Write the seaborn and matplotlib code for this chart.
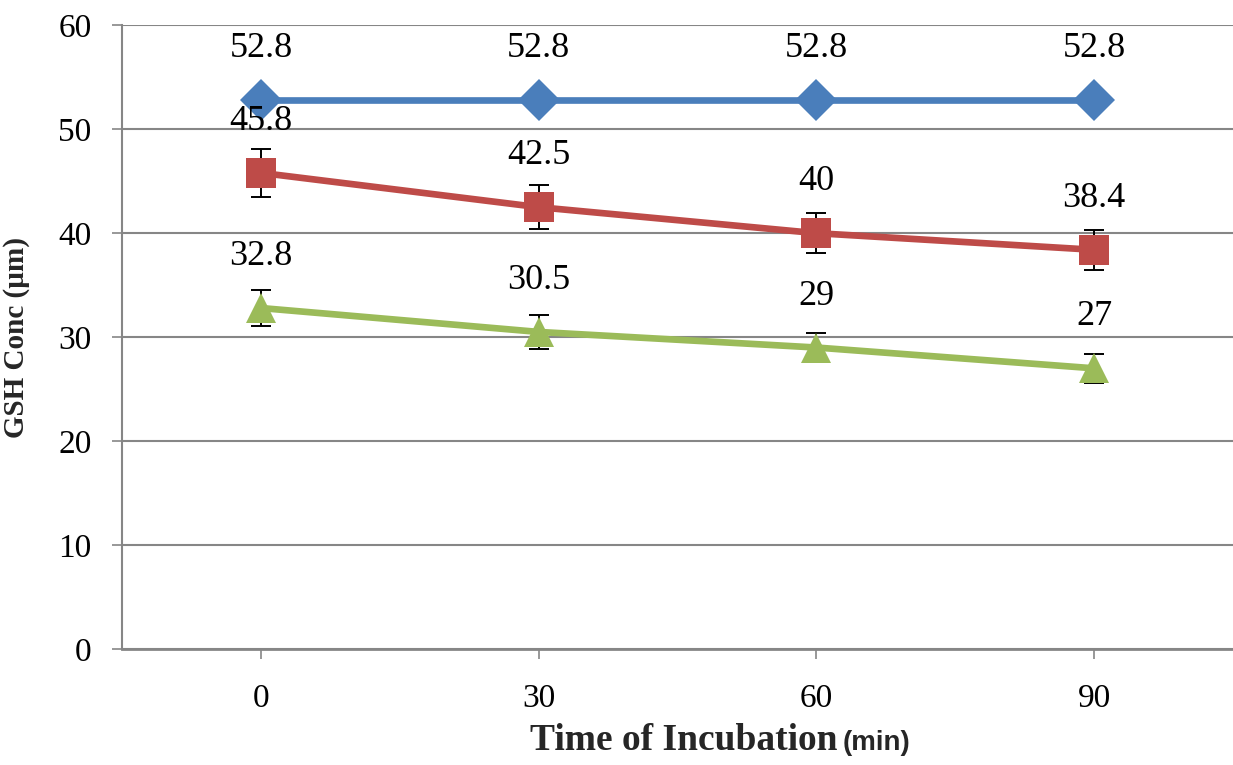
import numpy as np
import pandas as pd
import seaborn as sns
import matplotlib.pyplot as plt

# --- data ---
time_min = [0, 30, 60, 90]
control_gsh = [52.8, 52.8, 52.8, 52.8]
treat1_gsh = [45.8, 42.5, 40.0, 38.4]
treat2_gsh = [32.8, 30.5, 29.0, 27.0]
treat1_err = [2.3, 2.1, 1.9, 1.9]
treat2_err = [1.7, 1.6, 1.4, 1.4]
y_ticks = [0, 10, 20, 30, 40, 50, 60]

series = ["control", "treat1", "treat2"]
colors = {"control": "#4A7EBB", "treat1": "#BE4B48", "treat2": "#9BBB59"}
markers = {"control": "D", "treat1": "s", "treat2": "^"}

df = pd.concat([
    pd.DataFrame({"time": time_min, "gsh": control_gsh, "grp": "control"}),
    pd.DataFrame({"time": time_min, "gsh": treat1_gsh, "grp": "treat1"}),
    pd.DataFrame({"time": time_min, "gsh": treat2_gsh, "grp": "treat2"}),
])

sns.set_style("white")
plt.rcParams["font.family"] = ["Liberation Serif", "DejaVu Serif"]

fig = plt.figure(figsize=(12.33, 7.65), dpi=100)
ax = fig.add_axes([0.099, 0.1516, 0.901, 0.8154])

# error bars first so markers sit on top
ax.errorbar(time_min, treat1_gsh, yerr=treat1_err, fmt="none", ecolor="black",
            elinewidth=1.4, capsize=7, capthick=1.4, zorder=2)
ax.errorbar(time_min, treat2_gsh, yerr=treat2_err, fmt="none", ecolor="black",
            elinewidth=1.4, capsize=7, capthick=1.4, zorder=2)

sns.lineplot(data=df, x="time", y="gsh", hue="grp", style="grp",
             hue_order=series, style_order=series, palette=colors,
             markers=markers, dashes=False, linewidth=4.8, markersize=21,
             markeredgewidth=0, legend=False, ax=ax, zorder=3)

# data labels
for vals in (control_gsh, treat1_gsh, treat2_gsh):
    for t, v in zip(time_min, vals):
        ax.annotate(f"{v:g}", (t, v), xytext=(0, 37), textcoords="offset points",
                    ha="center", va="center", fontsize=26, color="black", zorder=5)

ax.set_xlim(-15, 105)
ax.set_ylim(0, 60)
ax.set_xticks(time_min)
ax.set_yticks(y_ticks)
ax.tick_params(axis="both", labelsize=24, colors="#868686", labelcolor="black",
               length=7, width=1.2)
ax.tick_params(axis="x", pad=18, direction="out", bottom=True)
ax.tick_params(axis="y", pad=15, direction="out", left=True)

ax.yaxis.grid(True, color="#868686", linewidth=1.5)
ax.set_axisbelow(True)
for side in ["top", "right"]:
    ax.spines[side].set_visible(False)
ax.spines["left"].set_color("#868686")
ax.spines["left"].set_linewidth(1.5)
ax.spines["bottom"].set_color("#868686")
ax.spines["bottom"].set_linewidth(2)

ax.set_ylabel("GSH Conc (µm)", fontsize=21, fontweight="bold")
ax.yaxis.set_label_coords(-0.083, 0.5)
ax.set_xlabel("")
fig.text(0.43, 0.02, "Time of Incubation", fontsize=27, fontweight="bold",
         ha="left", va="baseline")
fig.text(0.683, 0.02, "(min)", fontsize=20, fontweight="bold",
         family=["Liberation Sans", "DejaVu Sans"], ha="left", va="baseline")

fig.savefig("out.png", dpi=100, facecolor="white")
